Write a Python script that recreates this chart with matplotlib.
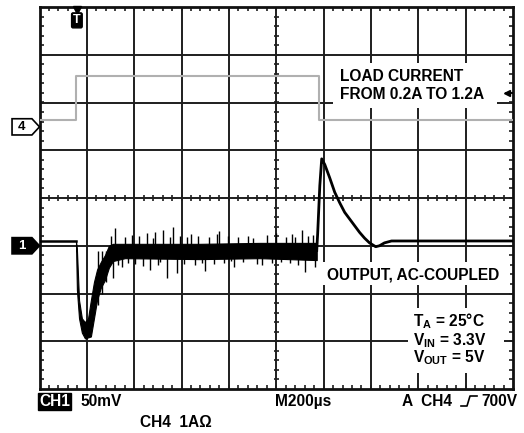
import numpy as np
import matplotlib.pyplot as plt
from matplotlib.patches import Polygon, Rectangle

plt.rcParams['font.family'] = ['Liberation Sans', 'DejaVu Sans']
plt.rcParams['mathtext.fontset'] = 'custom'
plt.rcParams['mathtext.rm'] = 'Liberation Sans:bold'
plt.rcParams['mathtext.it'] = 'Liberation Sans:bold'
plt.rcParams['mathtext.bf'] = 'Liberation Sans:bold'

# scope settings
T_DIV = 200      # us / div
CH1_DIV = 50     # mV / div
CH4_DIV = 1.0    # A / div
CH1_GND = 3.0    # div from bottom
CH4_GND = 5.49
TRIG_T = 158     # us
TRIG_LEVEL = 0.71  # A

# CH4: load current (A)
load_t = [0, 155, 155, 1180, 1180, 2000]
load_i = [0.14, 0.14, 1.07, 1.07, 0.14, 0.14]

# CH1: output (mV, ac coupled)
pre_t = [0, 154]
pre_v = [5, 5]

# noisy part after load step up, upper / lower envelope
band_t = [154, 158, 167, 179, 192, 205, 217, 230, 243, 259, 276, 293, 310, 361, 677, 930, 1171]
band_hi = [5, -4, -57, -76, -80, -76, -57, -38, -25, -17, -10, 0, 2, 2, 2, 3, 3]
band_lo = [5, -46, -76, -91, -97, -96, -95, -76, -57, -44, -36, -23, -16, -13, -14, -13, -15]

# noise spikes on top of the band
spike_t = [245, 262, 280, 300, 310, 319, 333, 348, 362, 375, 390, 405, 420, 437, 453, 466, 478, 487, 500,
           510, 521, 538, 550, 563, 580, 595, 610, 625, 640, 655, 670, 685, 700, 718, 735,
           748, 760, 778, 795, 808, 820, 840, 860, 880, 900, 920, 940, 960, 980, 1000, 1020, 1040,
           1057, 1068, 1078, 1092, 1107, 1120, 1135, 1154, 1165]
spike_v = [-62, -50, -38, 10, -34, 19, -20, -22, 9, -18, 11, -19, 10, -21, 13, -25, 8, 14, -20,
           -17, 16, -34, 9, 20, -29, 10, -19, 9, 12, -20, 10, -18, -26, 9, -19,
           12, 15, -18, 10, -16, -22, 9, -17, 10, 8, -19, -20, 11, -18, 13, -17, 9,
           -18, 12, 9, -20, 16, -27, 10, 11, -22]

# recovery after load step down
rec_t = [1171, 1175, 1184, 1192, 1205, 1226, 1247, 1268, 1289, 1310, 1331, 1352, 1373, 1394, 1420,
         1436, 1457, 1487, 2000]
rec_v = [-5, 13, 63, 91, 85, 71, 56, 45, 35, 28, 21, 14, 8, 3, -1, 0, 3, 5, 5]


def ch1(v):
    return CH1_GND + np.asarray(v, float) / CH1_DIV


def tdiv(t):
    return np.asarray(t, float) / T_DIV


W, H = 524, 433
fig = plt.figure(figsize=(W / 100, H / 100), dpi=100)
fig.patch.set_facecolor('w')
ax = fig.add_axes([39.5 / W, 44 / H, 473.5 / W, 382 / H])
ax.set_xlim(0, 10)
ax.set_ylim(0, 8)
ax.set_xticks([])
ax.set_yticks([])
for s in ax.spines.values():
    s.set_linewidth(2)
    s.set_color('#111')

# graticule
gc = '#1e1e1e'
for k in range(1, 10):
    ax.axvline(k, color=gc, lw=1.4, zorder=1)
for k in range(1, 8):
    ax.axhline(k, color=gc, lw=1.4, zorder=1)
tx = np.arange(0.2, 10, 0.2)
ty = np.arange(0.2, 8, 0.2)
tl = 0.085
ax.vlines(tx, 8 - tl, 8, color=gc, lw=1.2)
ax.vlines(tx, 0, tl, color=gc, lw=1.2)
ax.vlines(tx, 4 - 0.055, 4 + 0.055, color=gc, lw=1.2)
ax.hlines(ty, 0, tl, color=gc, lw=1.2)
ax.hlines(ty, 10 - tl, 10, color=gc, lw=1.2)
ax.hlines(ty, 5 - 0.055, 5 + 0.055, color=gc, lw=1.2)

# CH4 trace
ax.plot(tdiv(load_t), CH4_GND + np.array(load_i) / CH4_DIV, color='#b0b0b0', lw=1.5, zorder=3)

# CH1 trace
ax.plot(tdiv(pre_t), ch1(pre_v), color='black', lw=1.8, zorder=4)
ax.fill_between(tdiv(band_t), ch1(band_hi), ch1(band_lo), color='black', lw=0.8, zorder=4)
ax.vlines(tdiv(spike_t), ch1(-6), ch1(spike_v), color='black', lw=1.0, zorder=4)
ax.plot(tdiv(rec_t), ch1(rec_v), color='black', lw=2.0, zorder=4)

# channel markers
for gnd, lab, fc, tc in [(CH4_GND, '4', 'white', 'black'), (CH1_GND, '1', 'black', 'white')]:
    hh = 0.17
    pts = [(-0.58, gnd - hh), (-0.16, gnd - hh), (0, gnd), (-0.16, gnd + hh), (-0.58, gnd + hh)]
    ax.add_patch(Polygon(pts, closed=True, fc=fc, ec='black', lw=1.2, clip_on=False, zorder=6))
    ax.text(-0.37, gnd, lab, color=tc, fontsize=9.5, fontweight='bold', ha='center', va='center',
            clip_on=False, zorder=7)

# trigger markers
ax.plot([tdiv(TRIG_T)], [7.94], marker='v', ms=6, color='black', clip_on=False, zorder=6)
ax.text(tdiv(TRIG_T), 7.72, 'T', color='white', fontsize=9, fontweight='bold', ha='center', va='center',
        bbox=dict(boxstyle='round,pad=0.12', fc='black', ec='black'), zorder=6)
ax.plot([9.86, 10], [CH4_GND + TRIG_LEVEL] * 2, color='black', lw=1.2, zorder=6)
ax.plot([9.88], [CH4_GND + TRIG_LEVEL], marker='<', ms=5, color='black', zorder=6)

# overlay in pixel coords for annotations
ov = fig.add_axes([0, 0, 1, 1])
ov.set_xlim(0, W)
ov.set_ylim(H, 0)
ov.axis('off')

fs = 11.2
for (x0, y0, x1, y1) in [(333, 63, 497, 108), (320, 262, 510, 285), (408, 308, 504, 373)]:
    ov.add_patch(Rectangle((x0, y0), x1 - x0, y1 - y0, fc='white', ec='none', zorder=2))

kw = dict(fontsize=fs, fontweight='bold', ha='left', va='baseline', zorder=3)
ov.text(340, 81, 'LOAD CURRENT', **kw)
ov.text(340, 99, 'FROM 0.2A TO 1.2A', **kw)
ov.text(327, 279, 'OUTPUT, AC-COUPLED', **kw)
ov.text(413, 326, r'T$_\mathrm{A}$ = 25°C', **kw)
ov.text(413, 345, r'V$_\mathrm{IN}$ = 3.3V', **kw)
ov.text(413, 362, r'V$_\mathrm{OUT}$ = 5V', **kw)

# bottom readout
ov.text(39, 406, 'CH1', color='white', bbox=dict(boxstyle='square,pad=0.06', fc='black', ec='black'), **kw)
ov.text(80, 406, '50mV', **kw)
ov.text(140, 427, 'CH4  1AΩ', **kw)
ov.text(275, 406, 'M200µs', **kw)
ov.text(402, 406, 'A  CH4', **kw)
ov.plot([461, 467, 470, 477], [406, 406, 396, 396], color='black', lw=1.2)
ov.text(517, 406, '700V', **{**kw, 'ha': 'right'})

fig.savefig('out.png', dpi=100)
